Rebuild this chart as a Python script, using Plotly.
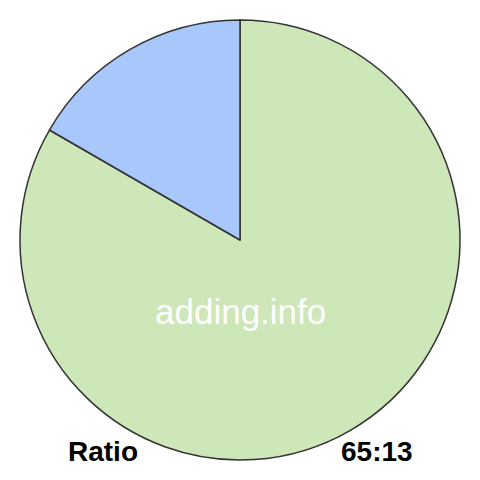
import plotly.graph_objects as go

# ratio parts
labels = ["65", "13"]
values = [65, 13]
colors = ["#cde7b9", "#a8c7fa"]

ratio_text = "%d:%d" % (values[0], values[1])

# page body has an 8px margin, so shift everything up/left by that
off = 8
W = 480

def px(v):
    return (v - off) / W

def py(v):
    return 1 - (v - off) / W

fig = go.Figure()

fig.add_trace(go.Pie(labels=labels,
                     values=values,
                     sort=False,
                     direction='clockwise',
                     rotation=0,
                     textinfo='none',
                     hoverinfo='skip',
                     marker=dict(colors=colors, line=dict(color='#333333', width=1.5)),
                     domain=dict(x=[px(20), px(460)], y=[py(460), py(20)]),
                     showlegend=False))

font_name = "Liberation Sans, Arial, sans-serif"

fig.add_annotation(text="adding.info", x=px(240), y=py(311), xref='paper', yref='paper',
                   xanchor='center', yanchor='middle',
                   showarrow=False, font=dict(family=font_name, size=35, color='white'))
fig.add_annotation(text="<b>Ratio</b>", x=px(103), y=py(451), xref='paper', yref='paper',
                   xanchor='center', yanchor='middle',
                   showarrow=False, font=dict(family=font_name, size=28, color='black'))
fig.add_annotation(text="<b>" + ratio_text + "</b>", x=px(377), y=py(451), xref='paper', yref='paper',
                   xanchor='center', yanchor='middle',
                   showarrow=False, font=dict(family=font_name, size=28, color='black'))

fig.update_layout(width=W, height=W,
                  margin=dict(l=0, r=0, t=0, b=0),
                  paper_bgcolor='white',
                  plot_bgcolor='white')

fig.write_html("out.html")
